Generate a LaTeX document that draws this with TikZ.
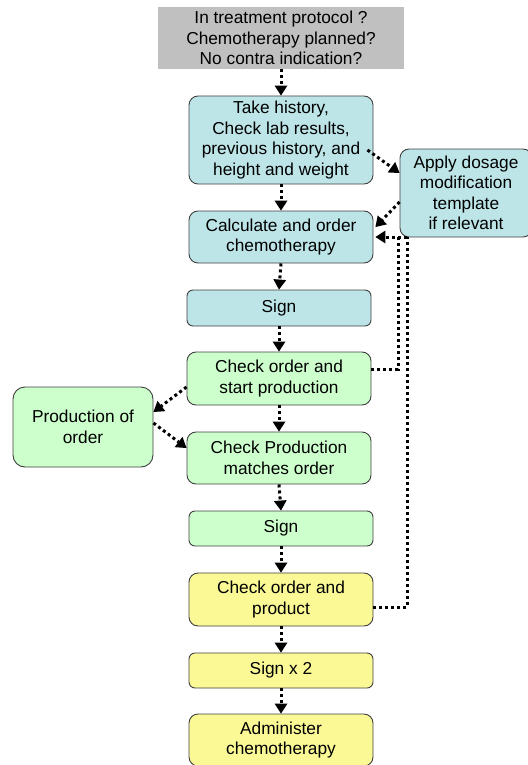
\documentclass[tikz,border=0pt]{standalone}
\usepackage{fontspec}
\setmainfont{Liberation Sans}
\usetikzlibrary{arrows.meta,calc}
\definecolor{cyanbox}{HTML}{BDE5E8}
\definecolor{greenbox}{HTML}{CCFFCC}
\definecolor{yellowbox}{HTML}{FAF996}
\definecolor{graybox}{HTML}{C0C0C0}
\definecolor{edge}{HTML}{404040}
\tikzset{
  box/.style={draw=edge, line width=0.9pt, rounded corners=9pt, align=center,
    minimum width=184pt, inner sep=0pt, font=\fontsize{17.3}{20.5}\selectfont},
  cbox/.style={box, fill=cyanbox},
  gbox/.style={box, fill=greenbox},
  ybox/.style={box, fill=yellowbox},
  topbox/.style={fill=graybox, align=center, minimum width=246pt, minimum height=62pt,
    inner sep=0pt, font=\fontsize{17.3}{20.5}\selectfont},
  flow/.style={line width=3pt, dash pattern=on 3pt off 3pt,
    -{Triangle[width=13pt,length=10pt,line width=0pt]}},
  link/.style={line width=3pt, dash pattern=on 3pt off 3pt}
}
\begin{document}
\begin{tikzpicture}[x=1pt,y=-1pt]
\useasboundingbox (0,0) rectangle (527,765);
\node[topbox] (top) at (281,38) {In treatment protocol ?\\Chemotherapy planned?\\No contra indication?};
\node[cbox, minimum height=88pt] (hist) at (281,140) {Take history,\\Check lab results,\\previous history, and\\height and weight};
\node[cbox, minimum width=132pt, minimum height=88pt] (apply) at (466,193) {Apply dosage\\modification\\template\\if relevant};
\node[cbox, minimum height=52pt] (calc) at (281,237) {Calculate and order\\chemotherapy};
\node[cbox, minimum height=36pt, rounded corners=6pt] (sign1) at (279,308) {Sign};
\node[gbox, minimum height=53pt] (cs) at (279,378.5) {Check order and\\start production};
\node[gbox, minimum width=140pt, minimum height=80pt, rounded corners=12pt] (prod) at (83,427) {Production of\\order};
\node[gbox, minimum height=52pt] (cpm) at (279,458) {Check Production\\matches order};
\node[gbox, minimum height=35pt, rounded corners=6pt] (sign2) at (281,528.5) {Sign};
\node[ybox, minimum height=53pt] (cp) at (281,599.5) {Check order and\\product};
\node[ybox, minimum height=35pt, rounded corners=6pt] (sign3) at (281,670.5) {Sign x 2};
\node[ybox, minimum height=52pt] (admin) at (281,740) {Administer\\chemotherapy};

\draw[flow] (top.south) -- (hist.north);
\draw[flow] (hist.south) -- (calc.north);
\draw[flow] (calc.south) -- (sign1.north);
\draw[flow] (sign1.south) -- (cs.north);
\draw[flow] (cs.south) -- (cpm.north);
\draw[flow] (cpm.south) -- (sign2.north);
\draw[flow] (sign2.south) -- (cp.north);
\draw[flow] (cp.south) -- (sign3.north);
\draw[flow] (sign3.south) -- (admin.north);

\draw[flow] ([xshift=-6pt,yshift=-10pt]hist.east) -- ([yshift=20pt]apply.west);
\draw[flow] ([yshift=-9pt]apply.west) -- ([xshift=2pt,yshift=10pt]calc.east);
\draw[flow] ([yshift=-8.5pt]cs.west) -- ([yshift=15pt]prod.east);
\draw[flow] ([yshift=4pt]prod.east) -- ([yshift=10pt]cpm.west);

\coordinate (fa) at (398,369);
\coordinate (fb) at (407,607);
\draw[link] ([yshift=9.5pt]cs.east) -- (fa) -- (fa |- calc.east);
\draw[link] ([yshift=-7.5pt]cp.east) -- (fb) -- (fb |- calc.east);
\draw[flow] (fb |- calc.east) -- ([xshift=2pt]calc.east);
\end{tikzpicture}
\end{document}
